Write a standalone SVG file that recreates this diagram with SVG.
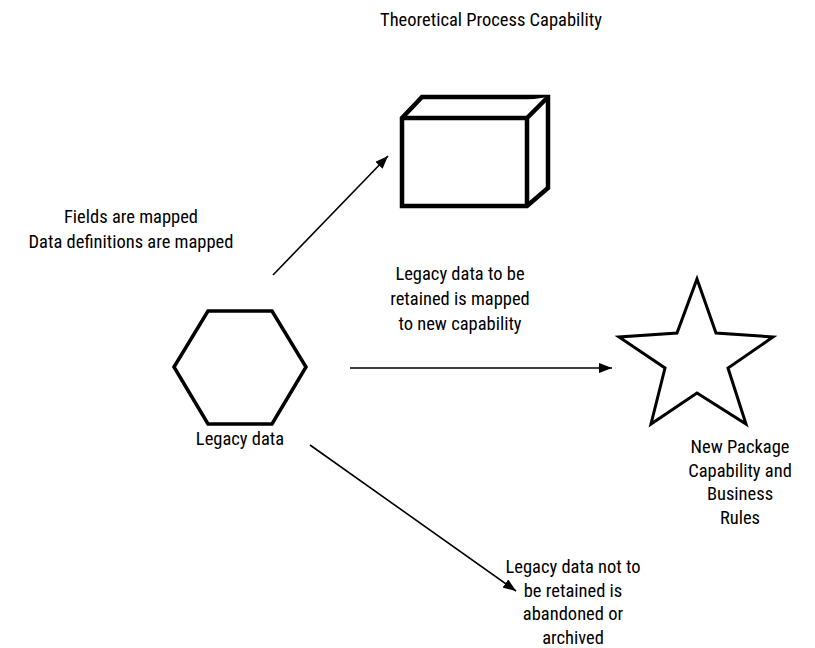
<svg xmlns="http://www.w3.org/2000/svg" width="815" height="648" viewBox="0 0 815 648">
<style>
text{font-family:"Liberation Sans Narrow","Arial Narrow","Roboto Condensed","Liberation Sans",sans-serif;font-size:18.5px;fill:#000;text-anchor:middle}
.shape{fill:#fff;stroke:#000;stroke-linejoin:miter}
.conn{stroke:#000;stroke-width:1.6;fill:none}
</style>
<defs>
<marker id="ah" markerUnits="userSpaceOnUse" markerWidth="14" markerHeight="10" refX="13" refY="5" orient="auto">
<path d="M0,0 L13,5 L0,10 z" fill="#000"/>
</marker>
</defs>
<rect width="815" height="648" fill="#fff"/>
<g id="title"><text x="491" y="26">Theoretical Process Capability</text></g>
<g id="connectors">
<line class="conn" x1="273" y1="275" x2="388" y2="156" marker-end="url(#ah)"/>
<line class="conn" x1="350" y1="368" x2="612" y2="368" marker-end="url(#ah)"/>
<line class="conn" x1="310" y1="445" x2="516" y2="591" marker-end="url(#ah)"/>
</g>
<g id="mapping-label">
<text x="131" y="223">Fields are mapped</text>
<text x="131" y="248">Data definitions are mapped</text>
</g>
<g id="box">
<path class="shape" stroke-width="4.5" d="M402,118 L422,97 L548,97 L548,188 L527,206 L402,206 Z"/>
<path class="shape" stroke-width="4.5" d="M402,118 L527,118 L548,97 M527,118 L527,206" fill="none"/>
<text x="460" y="280">Legacy data to be</text>
<text x="460" y="305">retained is mapped</text>
<text x="460" y="330">to new capability</text>
</g>
<g id="hexagon">
<polygon class="shape" stroke-width="3.5" points="174,367 208,311 272,311 306,367 272,424 208,424"/>
<text x="240" y="445">Legacy data</text>
</g>
<g id="star">
<polygon class="shape" stroke-width="3" points="697,279 716,333 773,337 728,368 746,424 697,393 651,424 665,368 619,337 677,333"/>
<text x="740" y="453">New Package</text>
<text x="740" y="477">Capability and</text>
<text x="740" y="500">Business</text>
<text x="740" y="524">Rules</text>
</g>
<g id="abandoned">
<text x="573" y="573">Legacy data not to</text>
<text x="573" y="597">be retained is</text>
<text x="573" y="620">abandoned or</text>
<text x="573" y="644">archived</text>
</g>
</svg>
